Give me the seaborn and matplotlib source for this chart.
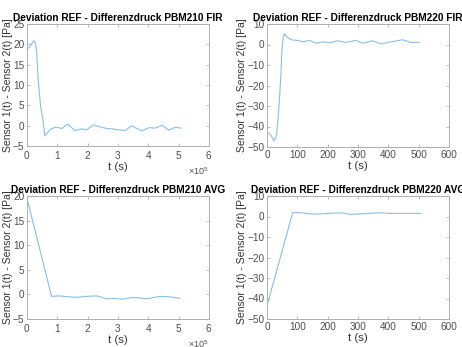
import numpy as np
import pandas as pd
import matplotlib
matplotlib.use("Agg")
import matplotlib.pyplot as plt
import seaborn as sns
from matplotlib.ticker import ScalarFormatter
from matplotlib import font_manager

# ---- data ----
# PBM210 FIR: time in units of 1e5 s
fir210_t = [0.00, 0.08, 0.16, 0.23, 0.28, 0.32, 0.37, 0.45, 0.54, 0.59, 0.67, 0.76, 0.92,
            1.05, 1.15, 1.34, 1.58, 1.80, 1.97, 2.19, 2.41, 2.63, 2.85, 3.07, 3.24,
            3.46, 3.57, 3.79, 4.01, 4.23, 4.45, 4.67, 4.89, 5.09]
fir210_v = [18.9, 19.2, 20.2, 20.9, 20.3, 17.8, 11.2, 4.7, 0.6, -2.5, -1.8, -1.0, -0.4,
            -0.5, -0.7, 0.4, -1.2, -0.8, -1.0, 0.2, -0.3, -0.7, -0.8, -1.1, -1.2,
            0.0, -0.5, -1.3, -0.5, -0.6, 0.1, -1.1, -0.4, -0.6]

# PBM220 FIR: time in s
fir220_t = [1, 10, 18, 23, 28, 32, 37, 41, 46, 49, 53, 57, 64, 79, 101, 118, 140, 162,
            184, 205, 233, 260, 293, 316, 348, 376, 409, 447, 475, 504]
fir220_v = [-43.0, -43.7, -45.5, -47.0, -46.0, -43.3, -35.0, -27.0, -14.0, -3.5, 3.0,
            5.3, 4.0, 2.3, 2.0, 1.3, 2.0, 0.6, 1.3, 0.8, 1.8, 1.0, 2.0, 0.6, 1.8, 0.3,
            1.3, 2.3, 1.0, 1.1]

# PBM210 AVG: time in units of 1e5 s
avg210_t = [0.00, 0.81, 1.03, 1.64, 1.97, 2.30, 2.63, 2.90, 3.12, 3.50, 3.95, 4.38,
            4.71, 5.04]
avg210_v = [19.5, -0.4, -0.3, -0.6, -0.4, -0.3, -0.9, -0.8, -1.0, -0.6, -0.9, -0.4,
            -0.5, -0.8]

# PBM220 AVG: time in s
avg220_t = [0, 85, 112, 156, 200, 244, 277, 321, 365, 409, 440, 508]
avg220_v = [-43.5, 2.0, 1.8, 1.1, 1.5, 1.8, 1.0, 1.4, 1.8, 1.5, 1.5, 1.5]

titles = ["Deviation REF - Differenzdruck PBM210 FIR",
          "Deviation REF - Differenzdruck PBM220 FIR",
          "Deviation REF - Differenzdruck PBM210 AVG",
          "Deviation REF - Differenzdruck PBM220 AVG"]
ylabel = "Sensor 1(t) - Sensor 2(t) [Pa]"
xlabel = "t (s)"

# ---- style ----
sns.set_style("white")
plt.rcParams["font.family"] = ["Liberation Sans", "DejaVu Sans"]
plt.rcParams["mathtext.fontset"] = "custom"
plt.rcParams["mathtext.rm"] = "Liberation Sans"

installed = {f.name for f in font_manager.fontManager.ttflist}
if "Liberation Sans Narrow" in installed:
    title_font = dict(family="Liberation Sans Narrow", fontsize=8.4)
else:
    title_font = dict(family="Liberation Sans", fontsize=7.3, fontstretch="condensed")

W, H = 462, 347
fig = plt.figure(figsize=(W / 100, H / 100), dpi=100)

def box(x0, y0, x1, y1):
    return [x0 / W, (H - y1) / H, (x1 - x0) / W, (y1 - y0) / H]

rects = [box(27, 24, 209, 146), box(267, 24, 449, 147),
         box(27, 196, 209, 319), box(267, 196, 449, 319)]

series = [
    (np.array(fir210_t) * 1e5, fir210_v, (0, 6e5), np.arange(0, 7e5, 1e5), (-5, 25), np.arange(-5, 30, 5)),
    (fir220_t, fir220_v, (0, 600), np.arange(0, 700, 100), (-50, 10), np.arange(-50, 20, 10)),
    (np.array(avg210_t) * 1e5, avg210_v, (0, 6e5), np.arange(0, 7e5, 1e5), (-5, 20), np.arange(-5, 25, 5)),
    (avg220_t, avg220_v, (0, 600), np.arange(0, 700, 100), (-50, 10), np.arange(-50, 20, 10)),
]

line_color = "#86c0e8"
tick_color = "#4d4d4d"
edge_color = "#b0b0b0"

for i, (rect, (t, v, xl, xt, yl, yt)) in enumerate(zip(rects, series)):
    ax = fig.add_axes(rect)
    df = pd.DataFrame({"t": t, "v": v})
    sns.lineplot(data=df, x="t", y="v", ax=ax, color=line_color, linewidth=0.8,
                 estimator=None, sort=False)
    ax.set_xlim(*xl)
    ax.set_ylim(*yl)
    ax.set_xticks(xt)
    ax.set_yticks(yt)
    ax.tick_params(direction="in", length=2.5, width=0.6, colors=edge_color,
                   labelcolor=tick_color, labelsize=7.2, pad=2,
                   top=True, right=True, bottom=True, left=True)
    for s in ax.spines.values():
        s.set_color(edge_color)
        s.set_linewidth(0.7)
    ax.set_xlabel(xlabel, fontsize=8.2, color="#333333", labelpad=1)
    ax.set_ylabel(ylabel, fontsize=7.5, color="#333333", labelpad=0)
    ax.set_title(titles[i], fontweight="bold", color="black", pad=2, **title_font)
    if xl[1] > 1000:
        fmt = ScalarFormatter(useMathText=True)
        fmt.set_powerlimits((0, 0))
        ax.xaxis.set_major_formatter(fmt)
        ax.xaxis.get_offset_text().set_fontsize(6.5)
        ax.xaxis.get_offset_text().set_color(tick_color)

fig.savefig("out.png", dpi=100, facecolor="white")
